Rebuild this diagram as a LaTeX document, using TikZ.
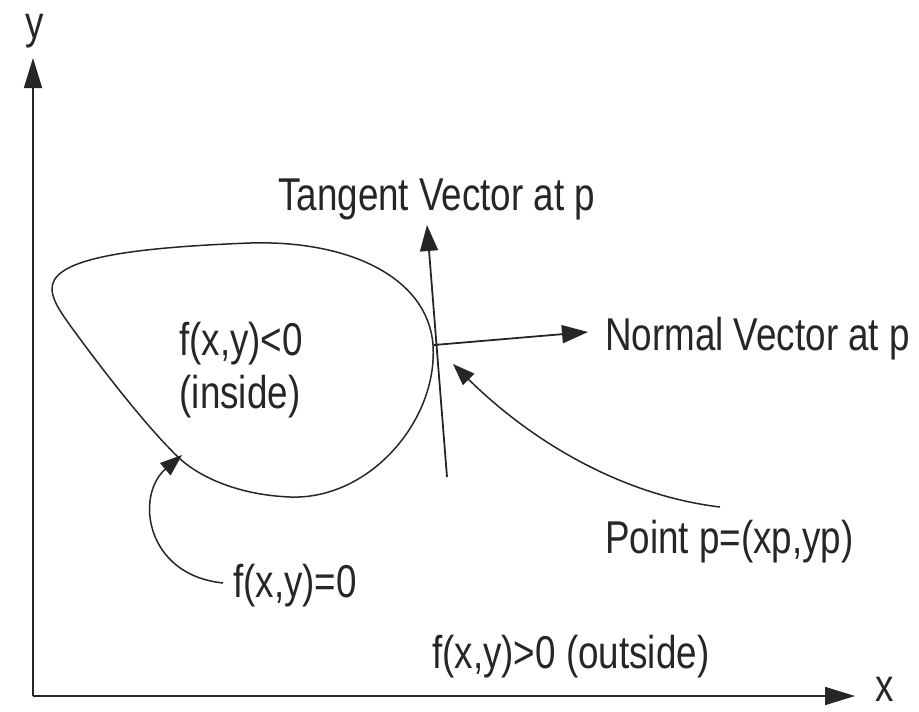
\documentclass[tikz,border=0pt]{standalone}
\usepackage{fontspec}
\setmainfont[FakeStretch=0.8]{Liberation Sans}
\usetikzlibrary{arrows.meta}
\begin{document}
\begin{tikzpicture}[x=1pt,y=-1pt,
  lbl/.style={inner sep=0pt, font=\fontsize{46}{54}\selectfont, text=black!85},
  ln/.style={line width=1.8pt, draw=black!85},
  thin/.style={line width=1.5pt, draw=black!85},
  bigtip/.style={-{Triangle[length=30pt,width=18pt]}},
  midtip/.style={-{Triangle[length=26pt,width=18pt]}},
  smalltip/.style={-{Triangle[length=22pt,width=16pt]}},
]
\useasboundingbox (0,0) rectangle (919,712);
% axes
\coordinate (O) at (33,696);
\coordinate (ytip) at (33,58);
\coordinate (xtip) at (855,696);
\draw[ln,bigtip] (O) -- (ytip);
\draw[ln,bigtip] (O) -- (xtip);
\node[lbl,anchor=base] (ylab) at (35,38) {y};
\node[lbl,anchor=base] (xlab) at (885,701) {x};
% blob
\draw[thin] (52,290) .. controls (50,260) and (120,248) .. (250,243)
  .. controls (350,240) and (428,278) .. (433,345)
  .. controls (438,420) and (370,500) .. (290,497)
  .. controls (240,495) and (200,478) .. (178,457)
  .. controls (150,430) and (110,380) .. (72,328)
  .. controls (62,314) and (53,302) .. (52,290) -- cycle;
% tangent and normal
\coordinate (p) at (434,345);
\coordinate (tb) at (447,477);
\coordinate (tt) at (427,225);
\coordinate (nt) at (588,332);
\draw[ln,midtip] (tb) -- (tt);
\draw[ln,midtip] (p) -- (nt);
% labels
\node[lbl,anchor=base west] (tan) at (278,210) {Tangent Vector at p};
\node[lbl,anchor=base west] (nor) at (605,350) {Normal Vector at p};
\node[lbl,anchor=base] (in1) at (241,355) {f(x,y)<0};
\node[lbl,anchor=base] (in2) at (240,408) {(inside)};
\node[lbl,anchor=base west] (f0) at (233,597) {f(x,y)=0};
\node[lbl,anchor=base west] (pp) at (605,553) {Point p=(xp,yp)};
\node[lbl,anchor=base west] (out) at (432,668) {f(x,y)>0 (outside)};
% pointer arrows
\coordinate (ps) at (720,507);
\coordinate (pe) at (453,364);
\draw[thin,smalltip] (ps) .. controls (620,495) and (530,440) .. (pe);
\coordinate (fs) at (223,583);
\coordinate (fe) at (182,455);
\draw[thin,smalltip] (fs) .. controls (145,575) and (135,495) .. (fe);
\end{tikzpicture}
\end{document}
